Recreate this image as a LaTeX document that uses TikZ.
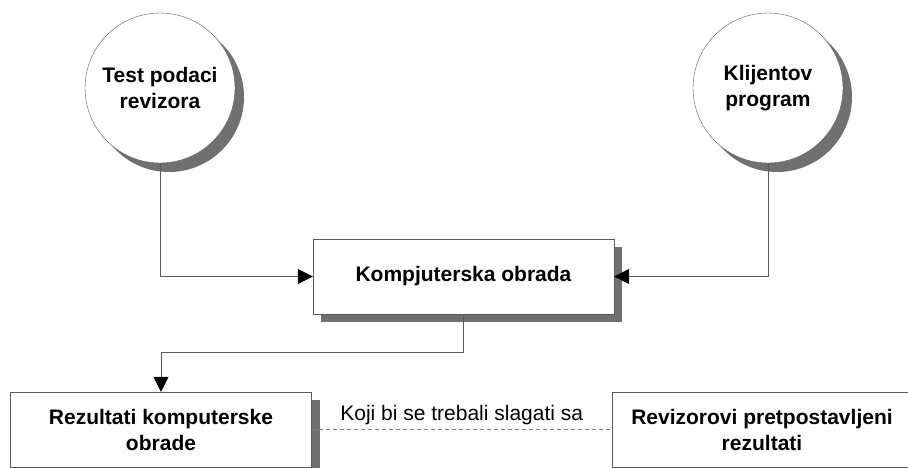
\documentclass[tikz,border=0pt]{standalone}
\usepackage{fontspec}
\setmainfont{Liberation Sans}
\usetikzlibrary{arrows.meta, positioning, shadows}
\definecolor{linegray}{RGB}{90,90,90}
\definecolor{shadowgray}{RGB}{112,112,112}

\begin{document}
\begin{tikzpicture}[x=1pt, y=-1pt, >={Triangle[length=15pt, width=15pt, color=black]},
    source/.style={draw=linegray, circle, fill=white, minimum size=150pt, inner sep=0pt, align=center,
        font=\fontsize{21}{26}\selectfont\bfseries,
        drop shadow={shadow xshift=9pt, shadow yshift=-9pt, fill=shadowgray, opacity=1}},
    block/.style={draw=linegray, rectangle, fill=white, minimum width=301pt, minimum height=75pt, align=center,
        font=\fontsize{21}{26}\selectfont\bfseries},
    shadowed/.style={drop shadow={shadow xshift=8pt, shadow yshift=-8pt, fill=shadowgray, opacity=1}},
    link/.style={draw=linegray, line width=0.8pt}]
    \useasboundingbox (0,0) rectangle (908,468);

    % Inputs
    \node[source] (testdata) at (160,88) {Test podaci\\revizora};
    \node[source] (klijent) at (768,88) {Klijentov\\program};

    % Processing
    \node[block, shadowed] (obrada) at (463.5,276.5) {Kompjuterska obrada};

    % Results
    \node[block, shadowed] (rezultati) at (161,429.5) {Rezultati komputerske\\obrade};
    \node[block, minimum width=300pt] (ocekivano) at (762,429.5) {Revizorovi pretpostavljeni\\rezultati};

    % Connections
    \draw[link, ->] (testdata.south) |- (obrada.west);
    \draw[link, ->] (klijent.south) |- (obrada.east);
    \draw[link, ->] (obrada.south) -- ++(0,38) -| (rezultati.north);

    % Comparison
    \draw[link, dash pattern=on 4pt off 3pt, draw=gray] (rezultati.east) -- node[above=1pt, font=\fontsize{21}{26}\selectfont, text=black] {Koji bi se trebali slagati sa} (ocekivano.west);
\end{tikzpicture}
\end{document}
